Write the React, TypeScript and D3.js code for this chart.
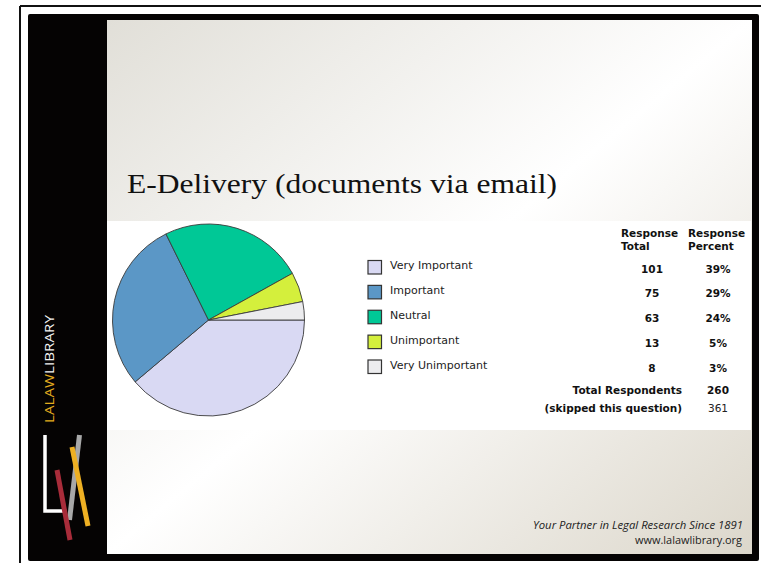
import React from "react";
import * as d3 from "d3";

const categories = ["Very Important", "Important", "Neutral", "Unimportant", "Very Unimportant"];
const totals = [101, 75, 63, 13, 8];
const percents = ["39%", "29%", "24%", "5%", "3%"];
const sliceColors = ["#d9d9f3", "#5b97c6", "#00c896", "#d4ef3c", "#ececee"];
const headerTotal = ["Response", "Total"];
const headerPercent = ["Response", "Percent"];
const totalRespondentsLabel = "Total Respondents";
const totalRespondents = 260;
const skippedLabel = "(skipped this question)";
const skipped = 361;
const title = "E-Delivery (documents via email)";
const footer1 = "Your Partner in Legal Research Since 1891";
const footer2 = "www.lalawlibrary.org";

const W = 761;
const H = 563;

export default function App() {
  const pie = d3
    .pie<number>()
    .sort(null)
    .startAngle(Math.PI / 2)
    .endAngle(Math.PI / 2 + 2 * Math.PI)(totals);
  const arc = d3.arc<d3.PieArcDatum<number>>().innerRadius(0).outerRadius(96);
  const rowY = d3.scalePoint<string>().domain(categories).range([269, 368.5]);
  const color = d3.scaleOrdinal<string, string>().domain(categories).range(sliceColors);

  const sans = "'DejaVu Sans', Verdana, sans-serif";

  return (
    <div style={{ position: "fixed", left: 0, top: 0, width: W, height: H }}>
      <svg width={W} height={H} style={{ display: "block" }}>
        <defs>
          <linearGradient id="bg" x1="0" y1="0" x2="1" y2="1">
            <stop offset="0" stopColor="#e1dfd8" />
            <stop offset="0.5" stopColor="#ffffff" />
            <stop offset="1" stopColor="#dcd7cb" />
          </linearGradient>
        </defs>
        <rect x={0} y={0} width={W} height={H} fill="#ffffff" />
        {/* outer thin frame */}
        <line x1={20} y1={6} x2={W} y2={6} stroke="#111" strokeWidth={2} />
        <line x1={20} y1={6} x2={20} y2={H} stroke="#111" strokeWidth={2} />
        {/* black panel */}
        <rect x={28} y={14} width={731} height={547} rx={2} fill="#050303" />
        {/* content area */}
        <rect x={107} y={20} width={645} height={534} fill="url(#bg)" />
        {/* white chart band */}
        <rect x={107} y={221} width={644} height={209} fill="#ffffff" />

        {/* title */}
        <text
          x={127}
          y={193}
          fontFamily="'Liberation Serif', 'Times New Roman', serif"
          fontSize={26.5}
          fill="#111"
          textLength={430}
          lengthAdjust="spacingAndGlyphs"
        >
          {title}
        </text>

        {/* pie */}
        <g transform="translate(208.5,320)">
          {pie.map((d, i) => (
            <path key={i} d={arc(d) || ""} fill={color(categories[i])} stroke="#3a3a3a" strokeWidth={0.9} />
          ))}
        </g>

        {/* legend */}
        {categories.map((c) => (
          <g key={c}>
            <rect
              x={368}
              y={(rowY(c) as number) - 8.5}
              width={13.5}
              height={13.5}
              fill={color(c)}
              stroke="#333"
              strokeWidth={1.2}
            />
            <text x={390} y={rowY(c)} fontFamily={sans} fontSize={11} fill="#222">
              {c}
            </text>
          </g>
        ))}

        {/* table header */}
        {headerTotal.map((t, i) => (
          <text key={"ht" + i} x={621} y={237 + i * 13} fontFamily={sans} fontSize={10.5} fontWeight="bold" fill="#111">
            {t}
          </text>
        ))}
        {headerPercent.map((t, i) => (
          <text key={"hp" + i} x={688} y={237 + i * 13} fontFamily={sans} fontSize={10.5} fontWeight="bold" fill="#111">
            {t}
          </text>
        ))}

        {/* values */}
        {categories.map((c, i) => (
          <g key={"v" + c}>
            <text
              x={652}
              y={(rowY(c) as number) + 3.5}
              textAnchor="middle"
              fontFamily={sans}
              fontSize={10.5}
              fontWeight="bold"
              fill="#111"
            >
              {totals[i]}
            </text>
            <text
              x={718}
              y={(rowY(c) as number) + 3.5}
              textAnchor="middle"
              fontFamily={sans}
              fontSize={10.5}
              fontWeight="bold"
              fill="#111"
            >
              {percents[i]}
            </text>
          </g>
        ))}

        <text x={682} y={394} textAnchor="end" fontFamily={sans} fontSize={10.5} fontWeight="bold" fill="#111">
          {totalRespondentsLabel}
        </text>
        <text x={718} y={394} textAnchor="middle" fontFamily={sans} fontSize={10.5} fontWeight="bold" fill="#111">
          {totalRespondents}
        </text>
        <text x={682} y={411.5} textAnchor="end" fontFamily={sans} fontSize={10.5} fontWeight="bold" fill="#111">
          {skippedLabel}
        </text>
        <text x={718} y={411.5} textAnchor="middle" fontFamily={sans} fontSize={10.5} fill="#222">
          {skipped}
        </text>

        {/* sidebar brand text */}
        <text
          transform="translate(53.5,423) rotate(-90)"
          fontFamily="'Open Sans', 'Liberation Sans', sans-serif"
          fontSize={12.5}
          textLength={108}
          lengthAdjust="spacingAndGlyphs"
        >
          <tspan fill="#e3ac1f">LALAW</tspan>
          <tspan fill="#f2f2f2">LIBRARY</tspan>
        </text>

        {/* logo */}
        <polyline points="45,435 45,511 63,511" fill="none" stroke="#ffffff" strokeWidth={3.5} />
        <line x1={79.5} y1={435} x2={69.5} y2={520} stroke="#a8a8a8" strokeWidth={5} />
        <line x1={57} y1={470} x2={70} y2={540} stroke="#a82c3a" strokeWidth={5} />
        <line x1={72} y1={447} x2={88} y2={526} stroke="#eeb023" strokeWidth={5} />

        {/* footer */}
        <text
          x={743}
          y={529}
          textAnchor="end"
          fontFamily="'Open Sans', 'Liberation Sans', sans-serif"
          fontStyle="italic"
          fontSize={11.5}
          fill="#222"
          textLength={210}
          lengthAdjust="spacingAndGlyphs"
        >
          {footer1}
        </text>
        <text
          x={742}
          y={544}
          textAnchor="end"
          fontFamily="'Open Sans', 'Liberation Sans', sans-serif"
          fontSize={11.5}
          fill="#222"
          textLength={107}
          lengthAdjust="spacingAndGlyphs"
        >
          {footer2}
        </text>
      </svg>
    </div>
  );
}
